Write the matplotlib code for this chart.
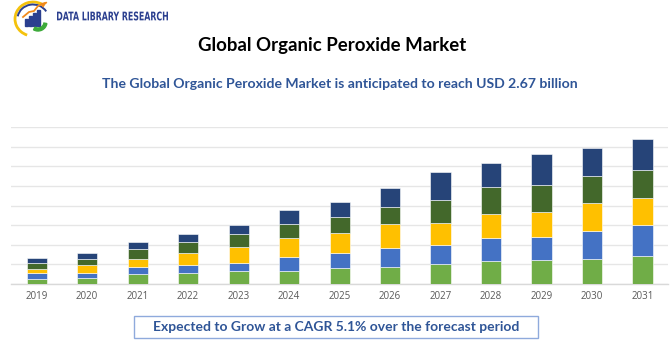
import matplotlib
matplotlib.use("Agg")
import matplotlib.pyplot as plt
from matplotlib.patches import Rectangle, Arc, Wedge, PathPatch
from matplotlib.textpath import TextPath
from matplotlib.font_manager import FontProperties
from matplotlib.transforms import Affine2D
import numpy as np

years = ["2019", "2020", "2021", "2022", "2023", "2024", "2025",
         "2026", "2027", "2028", "2029", "2030", "2031"]
seg1 = [0.24, 0.29, 0.50, 0.55, 0.65, 0.66, 0.79, 0.87, 0.99, 1.16, 1.20, 1.28, 1.40]
seg2 = [0.29, 0.26, 0.36, 0.41, 0.42, 0.70, 0.78, 0.97, 0.99, 1.19, 1.21, 1.40, 1.59]
seg3 = [0.20, 0.43, 0.41, 0.61, 0.80, 0.99, 1.01, 1.20, 1.13, 1.21, 1.25, 1.43, 1.41]
seg4 = [0.32, 0.27, 0.48, 0.55, 0.68, 0.72, 0.82, 0.88, 1.18, 1.38, 1.40, 1.40, 1.40]
seg5 = [0.29, 0.31, 0.36, 0.44, 0.43, 0.69, 0.78, 0.97, 1.42, 1.21, 1.57, 1.42, 1.59]
series = [seg1, seg2, seg3, seg4, seg5]
colors = ["#70AD47", "#4472C4", "#FFC000", "#43682B", "#264478"]

title = "Global Organic Peroxide Market"
subtitle = "The Global Organic Peroxide Market is anticipated to reach USD 2.67 billion"
footer = "Expected to Grow at a CAGR 5.1% over the forecast period"
brand = "DATA LIBRARY RESEARCH"

W, H = 670, 350
fig = plt.figure(figsize=(W / 100, H / 100), dpi=100)
fig.patch.set_facecolor("white")

def px(x0, y0, x1, y1):
    return [x0 / W, 1 - y1 / H, (x1 - x0) / W, (y1 - y0) / H]

ax = fig.add_axes(px(11.4, 127.3, 667.8, 283.7))
x = np.arange(len(years))
bottom = np.zeros(len(years))
for vals, c in zip(series, colors):
    ax.bar(x, vals, width=0.4, bottom=bottom, color=c, edgecolor="white",
           linewidth=0.4, zorder=3)
    bottom += np.array(vals)
ax.set_xlim(-0.5, len(years) - 0.5)
ax.set_ylim(0, 8)
ax.set_yticks(np.arange(0, 9, 1))
ax.yaxis.grid(True, color="#e6e6e6", linewidth=1.0, zorder=0)
ax.set_yticklabels([])
ax.tick_params(axis="y", length=0)
ax.set_xticks(x)
ax.set_xticklabels(years, fontsize=7, color="#595959", family=["Open Sans", "DejaVu Sans"])
ax.tick_params(axis="x", length=0, pad=5)
for s in ["top", "right", "left"]:
    ax.spines[s].set_visible(False)
ax.spines["bottom"].set_color("#d9d9d9")
ax.spines["bottom"].set_linewidth(1.0)
ax.set_facecolor("white")

fig.text(332.5 / W, 1 - 45 / H, title, ha="center", va="center", fontsize=13.4,
         fontweight="bold", color="black", family=["Lato", "DejaVu Sans"])
fig.text(339.7 / W, 1 - 83.7 / H, subtitle, ha="center", va="center", fontsize=10.1,
         fontweight="bold", color="#2F5597", family=["Lato", "DejaVu Sans"])

# footer box
fig.patches.append(Rectangle((134 / W, 1 - 338.3 / H), (537.7 - 134) / W, (338.3 - 315.7) / H,
                             transform=fig.transFigure, facecolor="white",
                             edgecolor="#8FAADC", linewidth=1.0))
fig.text(335.8 / W, 1 - 326.7 / H, footer, ha="center", va="center", fontsize=10,
         fontweight="bold", color="#2F5597", family=["Lato", "DejaVu Sans"])

# logo (drawn in pixel coordinates, y downward)
lax = fig.add_axes(px(8, 0, 58, 40))
lax.set_xlim(8, 58)
lax.set_ylim(40, 0)
lax.axis("off")
lax.add_patch(Arc((33, 19), 36, 34, theta1=110, theta2=300, color="#F4C20D",
                  linewidth=2.0, clip_on=False))
lax.add_patch(Arc((33, 19), 31, 29, theta1=190, theta2=330, color="#2B3F8F",
                  linewidth=1.4, clip_on=False))
for bx, bh in zip([25, 29, 33, 37], [7, 10, 13, 16]):
    lax.add_patch(Rectangle((bx, 26 - bh), 3, bh, color="#2B3F8F", clip_on=False))
lax.add_patch(Wedge((38, 22), 9, 10, 120, width=3, color="#3DAA3A", clip_on=False))
lax.plot([23, 29, 34, 38, 45], [17, 12, 11, 6, 3], color="#F08A1C", linewidth=1.3,
         clip_on=False)
lax.annotate("", xy=(49, 1), xytext=(44, 4),
             arrowprops=dict(arrowstyle="-|>", color="#F08A1C", lw=1.2, mutation_scale=6))

# brand text, horizontally condensed to match the logo lettering
tp = TextPath((0, 0), brand, size=10, prop=FontProperties(family="DejaVu Sans", weight="bold"))
bb = tp.get_extents()
sx = 111.0 / bb.width
sy = 9.0 / bb.height
tr = Affine2D().translate(-bb.x0, -bb.y0).scale(sx / W, sy / H).translate(57 / W, 1 - 20.5 / H)
fig.patches.append(PathPatch(tp, transform=tr + fig.transFigure, facecolor="#2B3F8F",
                             edgecolor="none"))

fig.savefig("out.png", dpi=100, facecolor="white")
